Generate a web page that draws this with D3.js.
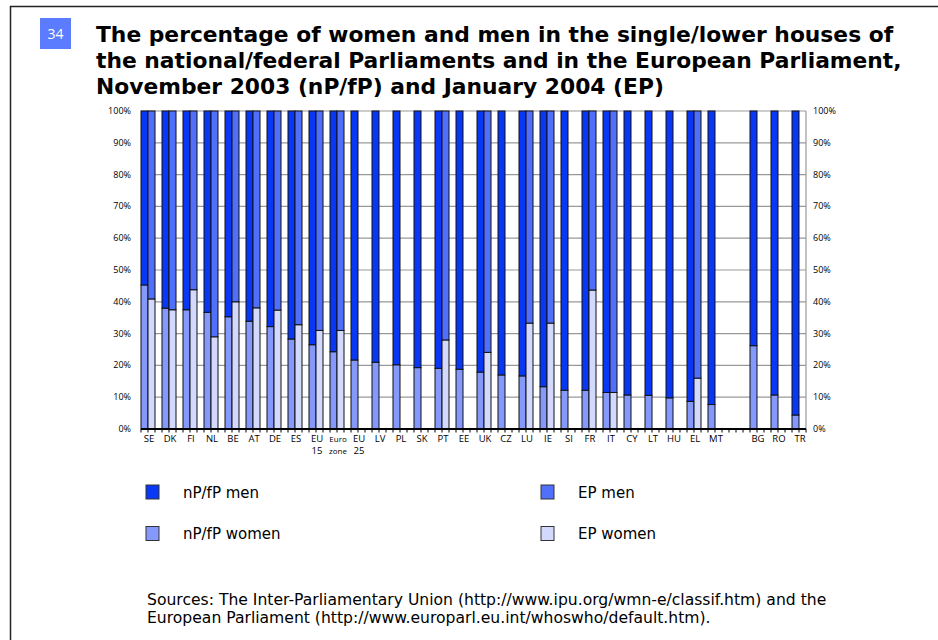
<!DOCTYPE html>
<html><head><meta charset="utf-8">
<script src="https://cdn.jsdelivr.net/npm/d3@7"></script>
<style>body{margin:0;background:#fff}svg{display:block}</style>
</head><body>
<script>
const groups = ["SE","DK","FI","NL","BE","AT","DE","ES","EU15","Eurozone","EU25","LV","PL","SK","PT","EE","UK","CZ","LU","IE","SI","FR","IT","CY","LT","HU","EL","MT","","BG","RO","TR"];
const labels = [["SE"],["DK"],["FI"],["NL"],["BE"],["AT"],["DE"],["ES"],["EU","15"],["Euro","zone"],["EU","25"],["LV"],["PL"],["SK"],["PT"],["EE"],["UK"],["CZ"],["LU"],["IE"],["SI"],["FR"],["IT"],["CY"],["LT"],["HU"],["EL"],["MT"],[""],["BG"],["RO"],["TR"]];
const npWomen = [45.3,38.0,37.5,36.7,35.3,33.9,32.2,28.3,26.5,24.3,21.7,21.0,20.2,19.3,19.1,18.8,17.9,17.0,16.7,13.3,12.2,12.2,11.5,10.7,10.6,9.8,8.7,7.7,null,26.2,10.7,4.4];
const epWomen = [40.9,37.5,43.8,29.0,40.0,38.1,37.4,32.8,31.0,31.0,null,null,null,null,28.0,null,24.1,null,33.3,33.3,null,43.7,11.5,null,null,null,16.0,null,null,null,null,null];
const yTicks = [0,10,20,30,40,50,60,70,80,90,100];
const colors = {npMen:"#0838f5", epMen:"#5070fc", npWomen:"#8598fb", epWomen:"#d2d9fc"};
const legendItems = [["nP/fP men","npMen"],["EP men","epMen"],["nP/fP women","npWomen"],["EP women","epWomen"]];

const W=938,H=640;
const svg=d3.select("body").append("svg").attr("width",W).attr("height",H);
// frame
svg.append("path").attr("d","M10.5,640 V6.5 H938").attr("fill","none").attr("stroke","#222").attr("stroke-width",1.5);
// badge
svg.append("rect").attr("x",40).attr("y",18).attr("width",31).attr("height",31).attr("fill","#5b7cff");
svg.append("text").attr("x",55.5).attr("y",39).attr("text-anchor","middle").attr("fill","#fff")
  .attr("font-family","Open Sans, DejaVu Sans, sans-serif").attr("font-size",14).text("34");
// title
const titleLines=["The percentage of women and men in the single/lower houses of","the national/federal Parliaments and in the European Parliament,","November 2003 (nP/fP) and January 2004 (EP)"];
svg.append("g").selectAll("text").data(titleLines).join("text")
  .attr("x",96).attr("y",(d,i)=>42+i*26).attr("font-family","DejaVu Sans, Verdana, sans-serif")
  .attr("font-weight","bold").attr("font-size",21.8).attr("fill","#000").text(d=>d);

const left=141, plotRight=806;
const x=d3.scaleBand().domain(d3.range(groups.length)).range([left,left+groups.length*21]).padding(0);
const bw=x.bandwidth()/3;
const y=d3.scaleLinear().domain([0,100]).range([429,111]);

// gridlines
svg.append("g").selectAll("line").data(yTicks.slice(1)).join("line")
  .attr("x1",left).attr("x2",plotRight).attr("y1",d=>y(d)).attr("y2",d=>y(d))
  .attr("stroke","#999").attr("stroke-width",1.2);
// right axis line
svg.append("line").attr("x1",plotRight).attr("x2",plotRight).attr("y1",y(100)).attr("y2",y(0)).attr("stroke","#999").attr("stroke-width",1.2);

const bars=[];
groups.forEach((g,i)=>{
  if(npWomen[i]!=null){
    bars.push({x:x(i),v0:0,v1:npWomen[i],c:colors.npWomen});
    bars.push({x:x(i),v0:npWomen[i],v1:100,c:colors.npMen});
  }
  if(epWomen[i]!=null){
    bars.push({x:x(i)+bw,v0:0,v1:epWomen[i],c:colors.epWomen});
    bars.push({x:x(i)+bw,v0:epWomen[i],v1:100,c:colors.epMen});
  }
});
svg.append("g").selectAll("rect").data(bars).join("rect")
  .attr("x",d=>d.x).attr("width",bw).attr("y",d=>y(d.v1)).attr("height",d=>y(d.v0)-y(d.v1))
  .attr("fill",d=>d.c).attr("stroke","#111").attr("stroke-width",1);

// bottom axis
const nSlots=Math.round((plotRight-left)/bw);
svg.append("line").attr("x1",left).attr("x2",plotRight).attr("y1",y(0)).attr("y2",y(0)).attr("stroke","#000").attr("stroke-width",2);
svg.append("g").selectAll("line").data(d3.range(nSlots+1)).join("line")
  .attr("x1",k=>left+k*bw).attr("x2",k=>left+k*bw).attr("y1",y(0)).attr("y2",y(0)+3.5)
  .attr("stroke","#000").attr("stroke-width",1);

// category labels
const lg=svg.append("g").attr("font-family","Open Sans, Liberation Sans, sans-serif").attr("font-size",9.5).attr("fill","#000").attr("text-anchor","middle");
labels.forEach((l,i)=>{
  l.forEach((t,j)=>{
    lg.append("text").attr("x",x(i)+bw+1).attr("y",y(0)+13+j*11.5).attr("font-size",(t==="Euro"||t==="zone")?8:9.5).text(t);
  });
});

// y labels
const yl=svg.append("g").attr("font-family","Open Sans, Liberation Sans, sans-serif").attr("font-size",9).attr("fill","#000");
yl.selectAll(".l").data(yTicks).join("text").attr("class","l").attr("x",131).attr("y",d=>y(d)+3).attr("text-anchor","end").text(d=>d+"%");
yl.selectAll(".r").data(yTicks).join("text").attr("class","r").attr("x",813).attr("y",d=>y(d)+3).attr("text-anchor","start").text(d=>d+"%");

// legend
const leg=svg.append("g").attr("font-family","DejaVu Sans, Verdana, sans-serif").attr("font-size",15);
legendItems.forEach(([t,k],i)=>{
  const col=i%2, row=Math.floor(i/2);
  const lx=col?541:146, ly=485+row*41.5;
  leg.append("rect").attr("x",lx).attr("y",ly).attr("width",13).attr("height",14).attr("fill",colors[k]).attr("stroke","#333").attr("stroke-width",1);
  leg.append("text").attr("x",lx+37).attr("y",ly+12.5).text(t);
});

// sources
const src=["Sources: The Inter-Parliamentary Union (http://www.ipu.org/wmn-e/classif.htm) and the","European Parliament (http://www.europarl.eu.int/whoswho/default.htm)."];
svg.append("g").selectAll("text").data(src).join("text").attr("x",147).attr("y",(d,i)=>605+i*17.5)
  .attr("font-family","DejaVu Sans, Verdana, sans-serif").attr("font-size",15.6).attr("fill","#000").text(d=>d);
</script>
</body></html>
